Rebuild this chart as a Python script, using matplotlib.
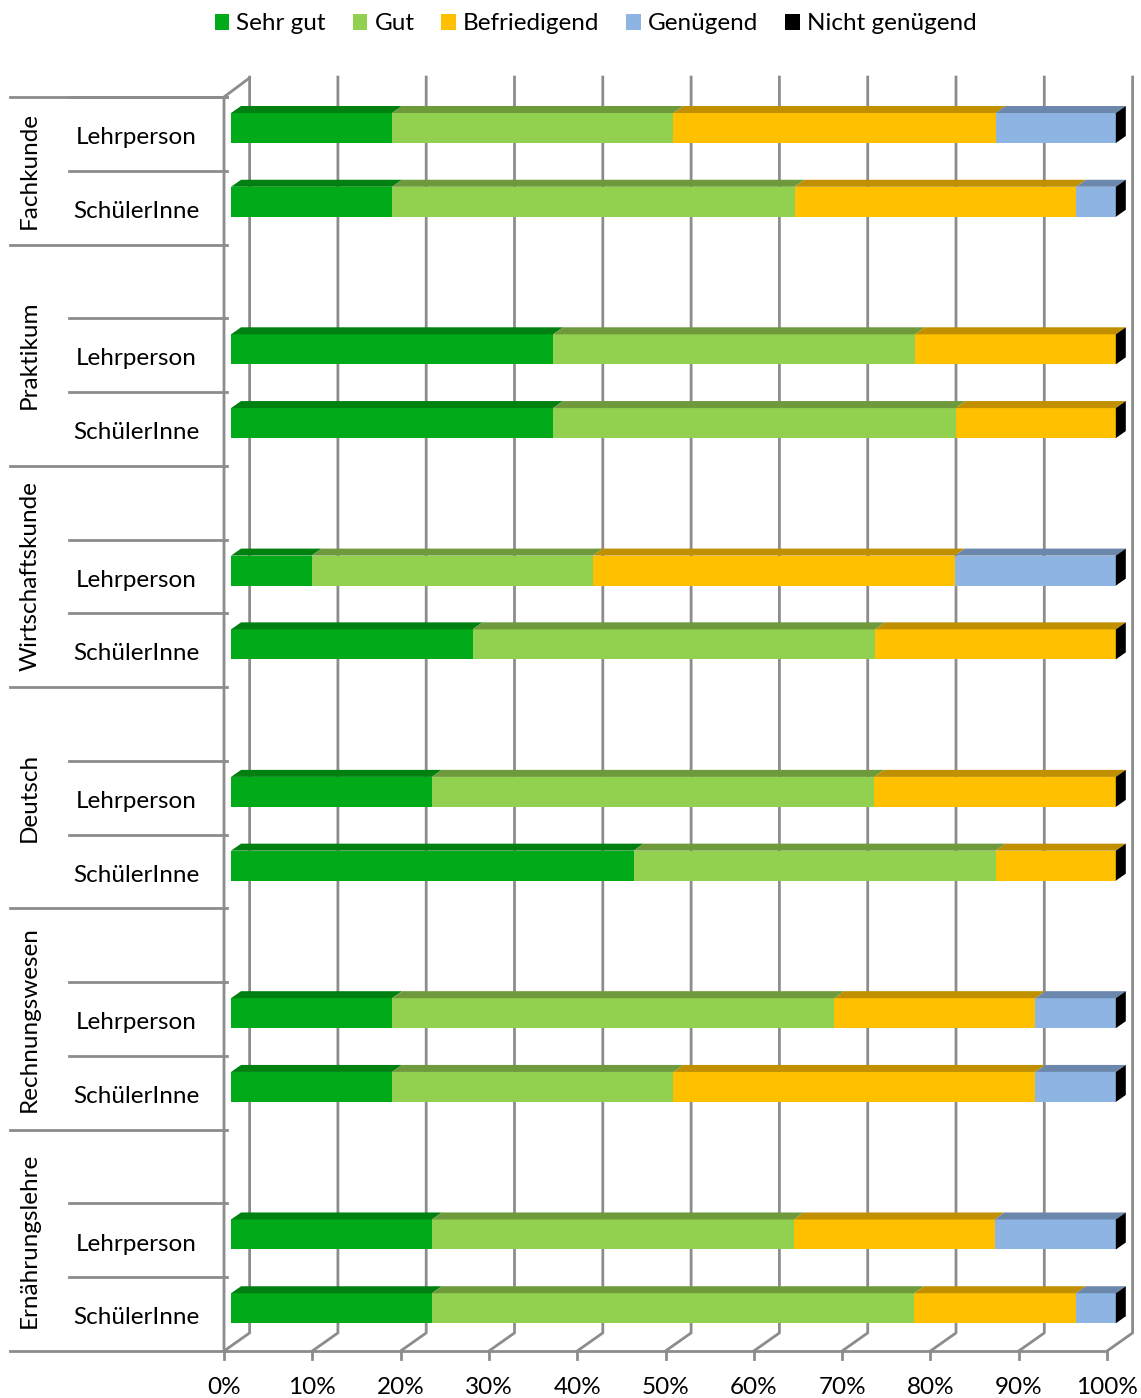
import matplotlib.pyplot as plt
from matplotlib.patches import Patch

plt.rcParams['font.family'] = ['Lato', 'DejaVu Sans']

# Bewertungen in Prozent (pro Zeile: Sehr gut, Gut, Befriedigend, Genügend, Nicht genügend)
grades = ["Sehr gut", "Gut", "Befriedigend", "Genügend", "Nicht genügend"]
subjects = ["Fachkunde", "Praktikum", "Wirtschaftskunde", "Deutsch",
            "Rechnungswesen", "Ernährungslehre"]
groups = ["Lehrperson", "SchülerInne"]

sehr_gut = [18.2, 18.2, 36.4, 36.4, 9.1, 27.3, 22.7, 45.5, 18.2, 18.2, 22.7, 22.7]
gut = [31.8, 45.5, 40.9, 45.5, 31.8, 45.5, 50.0, 40.9, 50.0, 31.8, 40.9, 54.5]
befriedigend = [36.4, 31.8, 22.7, 18.1, 40.9, 27.2, 27.3, 13.6, 22.7, 40.9, 22.7, 18.3]
genuegend = [13.6, 4.5, 0.0, 0.0, 18.2, 0.0, 0.0, 0.0, 9.1, 9.1, 13.7, 4.5]
nicht_genuegend = [0.0] * 12

front_colors = ["#00AA18", "#92D050", "#FFC000", "#8DB4E2", "#000000"]
top_colors = ["#008010", "#6E9A3C", "#C09000", "#6B87AB", "#000000"]

series = [sehr_gut, gut, befriedigend, genuegend, nicht_genuegend]

FS = 17.5

fig = plt.figure(figsize=(11.41, 13.98), dpi=100)
W, H = 1141, 1398
ax = fig.add_axes([224 / W, 1 - 1351 / H, 883 / W, 1254 / H])
n_slots = 17
ax.set_xlim(0, 100)
ax.set_ylim(n_slots, 0)
ax.axis('off')

# depth of the 3d box (in data units)
DX, DY = 2.9, -0.245
grid_col = "#8C8C8C"

# back wall gridlines + floor diagonals
for p in range(0, 101, 10):
    ax.plot([p + DX, p + DX, p], [-0.27, n_slots + DY, n_slots],
            color=grid_col, lw=2, clip_on=False, zorder=1)
    ax.plot([p, p], [n_slots, n_slots + 0.11], color=grid_col, lw=2, clip_on=False)
    ax.text(p, n_slots + 0.5, f"{p}%", ha='center', va='center', fontsize=FS)

# left wall and floor front edge
ax.plot([0, 0, DX], [n_slots, 0, -0.26], color=grid_col, lw=2, clip_on=False, zorder=1)
ax.plot([0, 100], [n_slots, n_slots], color=grid_col, lw=2, clip_on=False, zorder=1)

# row slots: each subject after the first gets an empty slot on top
rows = []
slot = 0
group_bounds = [0]
for i, s in enumerate(subjects):
    if i > 0:
        slot += 1
    rows.append(slot)
    rows.append(slot + 1)
    slot += 2
    group_bounds.append(slot)

BAR_X0 = 0.8
BAR_SCALE = 1.002
FACE_TOP, FACE_BOT = 0.217, 0.624
TOP_DX, TOP_DY = 1.13, -0.095

for r, y0 in enumerate(rows):
    yt, yb = y0 + FACE_TOP, y0 + FACE_BOT
    left = 0.0
    for k, vals in enumerate(series):
        v = vals[r]
        x0 = BAR_X0 + left * BAR_SCALE
        x1 = BAR_X0 + (left + v) * BAR_SCALE
        if v > 0:
            ax.fill([x0, x1, x1, x0], [yt, yt, yb, yb], color=front_colors[k],
                    lw=0, zorder=3, clip_on=False)
            ax.fill([x0, x1, x1 + TOP_DX, x0 + TOP_DX],
                    [yt, yt, yt + TOP_DY, yt + TOP_DY],
                    color=top_colors[k], lw=0, zorder=3, clip_on=False)
        left += v
    # right side face of the last (Nicht genügend) segment
    xr = BAR_X0 + left * BAR_SCALE
    ax.fill([xr, xr + TOP_DX, xr + TOP_DX, xr],
            [yt, yt + TOP_DY, yb + TOP_DY, yb],
            color=front_colors[-1], lw=0, zorder=4, clip_on=False)

# category axis: subject brackets and group labels
for gi, s in enumerate(subjects):
    top, bot = group_bounds[gi], group_bounds[gi + 1]
    ax.text(-22.0, (top + bot) / 2, s, rotation=90, ha='center', va='center',
            fontsize=FS)
    ax.plot([-24.2, 0.3], [top, top], color=grid_col, lw=2, clip_on=False)
    for j, g in enumerate(groups):
        yrow = rows[gi * 2 + j]
        ax.text(-9.9, yrow + 0.55, g, ha='center', va='center', fontsize=FS)
        ax.plot([-17.5, 0.3], [yrow, yrow], color=grid_col, lw=2, clip_on=False)
ax.plot([-24.2, 0.3], [n_slots, n_slots], color=grid_col, lw=2, clip_on=False)

handles = [Patch(facecolor=c, edgecolor='none') for c in front_colors]
fig.legend(handles, grades, loc='upper center', bbox_to_anchor=(0.522, 1.006),
           ncol=5, frameon=False, fontsize=FS, handlelength=0.6, handleheight=0.6,
           handletextpad=0.3, columnspacing=1.1)

fig.savefig("out.png", dpi=100)
